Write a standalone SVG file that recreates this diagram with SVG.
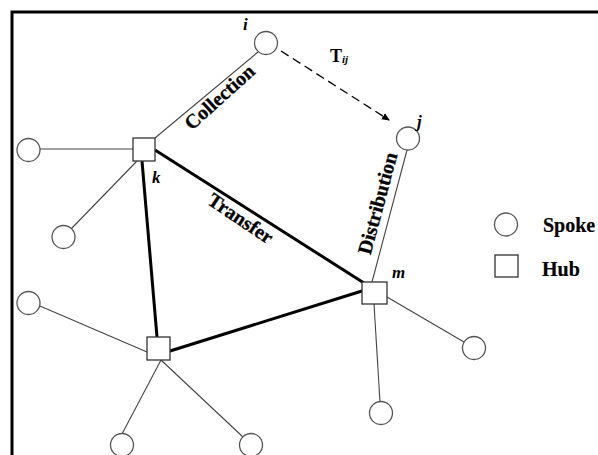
<svg xmlns="http://www.w3.org/2000/svg" width="598" height="455" viewBox="0 0 598 455">
<style>
.spoke{fill:#fff;stroke:#555;stroke-width:1.3}
.hub{fill:#fff;stroke:#333;stroke-width:1.3}
.thin{stroke:#444;stroke-width:1.1;fill:none}
.thick{stroke:#000;stroke-width:3;fill:none}
.lbl{font-family:"Liberation Serif","Times New Roman",serif;font-weight:bold;font-size:20px;fill:#000;stroke:#000;stroke-width:0.3}
.nm{font-family:"Liberation Serif","Times New Roman",serif;font-weight:bold;font-style:italic;font-size:17px;fill:#000}
.leg{font-family:"Liberation Serif","Times New Roman",serif;font-weight:bold;font-size:20px;fill:#000;stroke:#000;stroke-width:0.2}
</style>
<defs>
<marker id="ah" markerWidth="8" markerHeight="8" refX="7" refY="4" orient="auto" markerUnits="userSpaceOnUse">
<path d="M0,0.5 L8,4 L0,7.5 Z" fill="#000"/>
</marker>
</defs>
<rect width="598" height="455" fill="#fff"/>
<path d="M12,460 V12 H602" fill="none" stroke="#000" stroke-width="3"/>
<g id="connectors">
<line class="thin" x1="155" y1="138" x2="258" y2="52"/>
<line class="thin" x1="40" y1="149" x2="133" y2="149"/>
<line class="thin" x1="137" y1="161" x2="71" y2="229"/>
<line class="thin" x1="40" y1="306" x2="147" y2="352"/>
<line class="thin" x1="161" y1="360" x2="122" y2="434"/>
<line class="thin" x1="161" y1="360" x2="243" y2="437"/>
<line class="thin" x1="387" y1="297" x2="464" y2="342"/>
<line class="thin" x1="374" y1="304" x2="380" y2="402"/>
<line class="thin" x1="372" y1="282" x2="407" y2="150"/>
<line class="thick" x1="142" y1="161" x2="157" y2="337"/>
<line class="thick" x1="155" y1="150" x2="364" y2="283"/>
<line class="thick" x1="170" y1="351" x2="362" y2="291"/>
<line x1="281" y1="51" x2="389" y2="120" stroke="#000" stroke-width="1.3" stroke-dasharray="9,5" marker-end="url(#ah)"/>
</g>
<g id="spoke-i"><circle class="spoke" cx="266" cy="43" r="11.5"/><text class="nm" x="243" y="30">i</text></g>
<g id="spoke-j"><circle class="spoke" cx="408" cy="138.5" r="11.5"/><text class="nm" x="417" y="127">j</text></g>
<g id="spoke-l1"><circle class="spoke" cx="28.5" cy="150" r="11.5"/></g>
<g id="spoke-l2"><circle class="spoke" cx="63.5" cy="237" r="11.5"/></g>
<g id="spoke-l3"><circle class="spoke" cx="28.5" cy="303" r="11.5"/></g>
<g id="spoke-b1"><circle class="spoke" cx="122" cy="445" r="11.5"/></g>
<g id="spoke-b2"><circle class="spoke" cx="251" cy="445" r="11.5"/></g>
<g id="spoke-r1"><circle class="spoke" cx="474" cy="348" r="11.5"/></g>
<g id="spoke-r2"><circle class="spoke" cx="381" cy="413" r="11.5"/></g>
<g id="hub-k"><rect class="hub" x="133" y="138" width="22" height="23"/><text class="nm" x="152" y="183">k</text></g>
<g id="hub-b"><rect class="hub" x="147" y="337" width="23" height="23"/></g>
<g id="hub-m"><rect class="hub" x="362" y="282" width="25" height="22"/><text class="nm" x="392" y="278">m</text></g>
<g id="labels">
<text class="lbl" text-anchor="middle" transform="translate(224,102) rotate(-42)">Collection</text>
<text class="lbl" text-anchor="middle" transform="translate(237,224) rotate(34)">Transfer</text>
<text class="lbl" text-anchor="middle" transform="translate(384,205) rotate(-75)">Distribution</text>
<text x="330" y="62" font-family="Liberation Serif, serif" font-weight="bold" font-size="18">T<tspan font-size="11" font-style="italic" dy="1">ij</tspan></text>
</g>
<g id="legend">
<circle class="spoke" cx="506" cy="224.5" r="11.5"/>
<text class="leg" x="543" y="232">Spoke</text>
<rect class="hub" x="495" y="255" width="23" height="22"/>
<text class="leg" x="542" y="276">Hub</text>
</g>
</svg>
